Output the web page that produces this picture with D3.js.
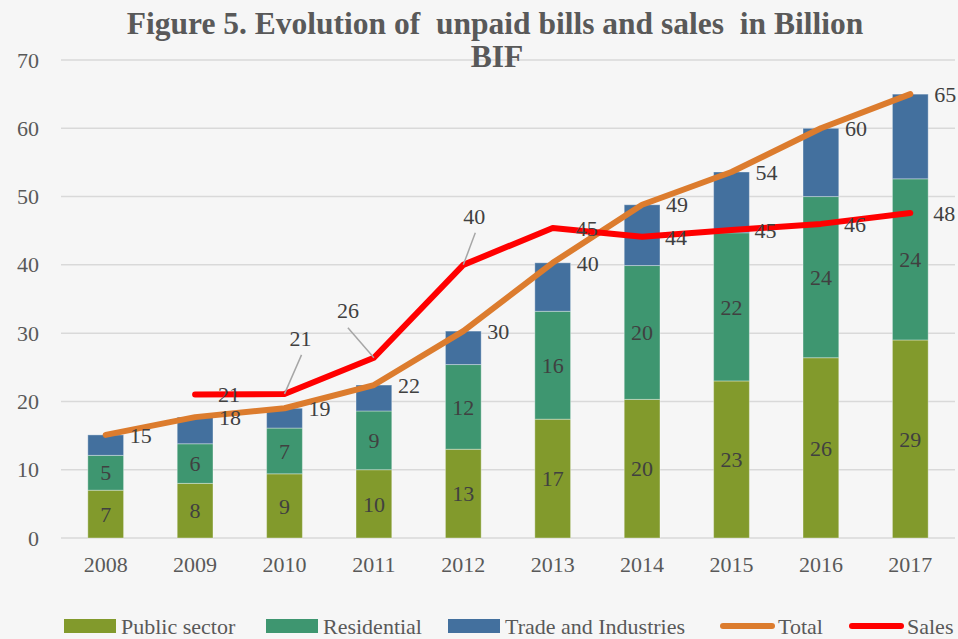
<!DOCTYPE html>
<html>
<head>
<meta charset="utf-8">
<script src="https://cdn.jsdelivr.net/npm/d3@7"></script>
<style>
  body { margin: 0; background: #f6f6f6; }
  svg { display: block; font-family: "Liberation Serif", "DejaVu Serif", serif; }
</style>
</head>
<body>
<div id="chart"></div>
<script>
// data (billion BIF)
const years = ["2008", "2009", "2010", "2011", "2012", "2013", "2014", "2015", "2016", "2017"];
const publicSector = [7.0, 8.0, 9.4, 10.0, 13.0, 17.4, 20.3, 23.0, 26.4, 29.0];
const residential = [5.1, 5.8, 6.7, 8.6, 12.4, 15.8, 19.6, 21.7, 23.6, 23.6];
const tradeIndustries = [3.0, 3.9, 2.9, 3.8, 4.9, 7.1, 8.9, 8.9, 10.0, 12.4];
const totalLine = [15.1, 17.7, 19.0, 22.4, 30.3, 40.3, 48.8, 53.6, 60.0, 65.0];
const salesLine = [null, 21.0, 21.1, 26.4, 40.0, 45.4, 44.1, 45.1, 46.0, 47.6];
const yTicks = [0, 10, 20, 30, 40, 50, 60, 70];
const seriesNames = ["Public sector", "Residential", "Trade and Industries", "Total", "Sales"];

const colors = {
  pub: "#829a2c",
  res: "#3e9670",
  trade: "#43709e",
  total: "#dc7c2e",
  sales: "#ff0000"
};

const width = 958, height = 639;
const margin = { top: 60, right: 3, bottom: 101, left: 61 };

const svg = d3.select("#chart").append("svg")
  .attr("width", width)
  .attr("height", height);

svg.append("rect").attr("width", width).attr("height", height).attr("fill", "#f6f6f6");

const x = d3.scaleBand()
  .domain(years)
  .range([margin.left, width - margin.right])
  .paddingInner(0.6)
  .paddingOuter(0.3);

const y = d3.scaleLinear()
  .domain([0, 70])
  .range([height - margin.bottom, margin.top]);

const cx = d => x(d) + x.bandwidth() / 2;

// gridlines
svg.append("g")
  .selectAll("line")
  .data(yTicks)
  .join("line")
  .attr("x1", margin.left)
  .attr("x2", width - margin.right)
  .attr("y1", d => y(d))
  .attr("y2", d => y(d))
  .attr("stroke", "#d9d9d9")
  .attr("stroke-width", 1.5);

// y axis labels
const yAxis = d3.axisLeft(y).tickValues(yTicks).tickSize(0).tickPadding(22);
svg.append("g")
  .attr("transform", `translate(${margin.left},0)`)
  .call(yAxis)
  .call(g => g.select(".domain").remove())
  .selectAll("text")
  .attr("font-size", 22)
  .attr("font-family", "Liberation Serif")
  .attr("fill", "#595959");

// x axis labels
const xAxis = d3.axisBottom(x).tickSize(0).tickPadding(18);
svg.append("g")
  .attr("transform", `translate(0,${height - margin.bottom})`)
  .call(xAxis)
  .call(g => g.select(".domain").remove())
  .selectAll("text")
  .attr("font-size", 22)
  .attr("font-family", "Liberation Serif")
  .attr("fill", "#595959");

// stacked bars
const rows = years.map((yr, i) => ({ year: yr, i: i, pub: publicSector[i], res: residential[i], trade: tradeIndustries[i] }));
const stack = d3.stack().keys(["pub", "res", "trade"])(rows);

svg.append("g")
  .selectAll("g")
  .data(stack)
  .join("g")
  .attr("fill", d => colors[d.key])
  .selectAll("rect")
  .data(d => d)
  .join("rect")
  .attr("x", d => x(d.data.year))
  .attr("y", d => y(d[1]))
  .attr("width", x.bandwidth())
  .attr("height", d => y(d[0]) - y(d[1]))
  .attr("stroke", "rgba(255,255,255,0.35)")
  .attr("stroke-width", 1);

// labels inside public and residential segments
stack.slice(0, 2).forEach(s => {
  svg.append("g")
    .selectAll("text")
    .data(s)
    .join("text")
    .attr("x", d => cx(d.data.year))
    .attr("y", d => (y(d[0]) + y(d[1])) / 2)
    .attr("dy", "0.35em")
    .attr("text-anchor", "middle")
    .attr("font-size", 22)
    .attr("fill", "#404040")
    .text(d => Math.round(d.data[s.key]));
});

// lines
const line = d3.line()
  .defined(d => d.v != null)
  .x(d => cx(d.year))
  .y(d => y(d.v));

const totalPts = years.map((yr, i) => ({ year: yr, v: totalLine[i] }));
const salesPts = years.map((yr, i) => ({ year: yr, v: salesLine[i] }));

svg.append("path")
  .datum(totalPts)
  .attr("d", line)
  .attr("fill", "none")
  .attr("stroke", colors.total)
  .attr("stroke-width", 6)
  .attr("stroke-linecap", "round")
  .attr("stroke-linejoin", "round");

svg.append("path")
  .datum(salesPts)
  .attr("d", line)
  .attr("fill", "none")
  .attr("stroke", colors.sales)
  .attr("stroke-width", 6)
  .attr("stroke-linecap", "round")
  .attr("stroke-linejoin", "round");

// total labels (right of point)
svg.append("g")
  .selectAll("text")
  .data(totalPts)
  .join("text")
  .attr("x", d => cx(d.year) + 24)
  .attr("y", d => y(d.v))
  .attr("dy", "0.35em")
  .attr("font-size", 22)
  .attr("fill", "#404040")
  .text(d => Math.round(d.v));

// sales labels: right of point, a few as callouts with leader lines
const callouts = { "2010": [16, -56], "2011": [-26, -47], "2012": [11, -49] };
const salesLbl = svg.append("g");
salesPts.filter(d => d.v != null).forEach(d => {
  const px = cx(d.year), py = y(d.v);
  const c = callouts[d.year];
  if (c) {
    const lx = px + c[0], ly = py + c[1];
    salesLbl.append("line")
      .attr("x1", px).attr("y1", py)
      .attr("x2", lx + (c[0] > 0 ? 1 : 0)).attr("y2", ly + 17)
      .attr("stroke", "#a6a6a6").attr("stroke-width", 1.5);
    salesLbl.append("text")
      .attr("x", lx).attr("y", ly)
      .attr("dy", "0.35em")
      .attr("text-anchor", "middle")
      .attr("font-size", 22)
      .attr("fill", "#404040")
      .text(Math.round(d.v));
  } else {
    salesLbl.append("text")
      .attr("x", px + 23).attr("y", py)
      .attr("dy", "0.35em")
      .attr("font-size", 22)
      .attr("fill", "#404040")
      .text(Math.round(d.v));
  }
});

// title
const title = svg.append("text")
  .attr("text-anchor", "middle")
  .attr("font-size", 31.5)
  .attr("font-weight", "bold")
  .attr("fill", "#595959")
  .style("white-space", "pre");
title.append("tspan").attr("x", 495).attr("y", 34).text("Figure 5. Evolution of  unpaid bills and sales  in Billion");
title.append("tspan").attr("x", 497).attr("y", 67).text("BIF");

// legend
const legendItems = [
  { name: seriesNames[0], type: "rect", color: colors.pub, x: 64 },
  { name: seriesNames[1], type: "rect", color: colors.res, x: 266 },
  { name: seriesNames[2], type: "rect", color: colors.trade, x: 448 },
  { name: seriesNames[3], type: "line", color: colors.total, x: 723 },
  { name: seriesNames[4], type: "line", color: colors.sales, x: 852 }
];
const lg = svg.append("g").selectAll("g").data(legendItems).join("g")
  .attr("transform", d => `translate(${d.x},626)`);
lg.filter(d => d.type === "rect").append("rect")
  .attr("x", 0).attr("y", -7).attr("width", 52).attr("height", 14)
  .attr("fill", d => d.color);
lg.filter(d => d.type === "line").append("line")
  .attr("x1", 0).attr("x2", 49).attr("y1", 0).attr("y2", 0)
  .attr("stroke", d => d.color).attr("stroke-width", 6).attr("stroke-linecap", "round");
lg.append("text")
  .attr("x", d => d.type === "rect" ? 57 : 55)
  .attr("y", 0)
  .attr("dy", "0.35em")
  .attr("font-size", 22)
  .attr("fill", "#595959")
  .text(d => d.name);
</script>
</body>
</html>
